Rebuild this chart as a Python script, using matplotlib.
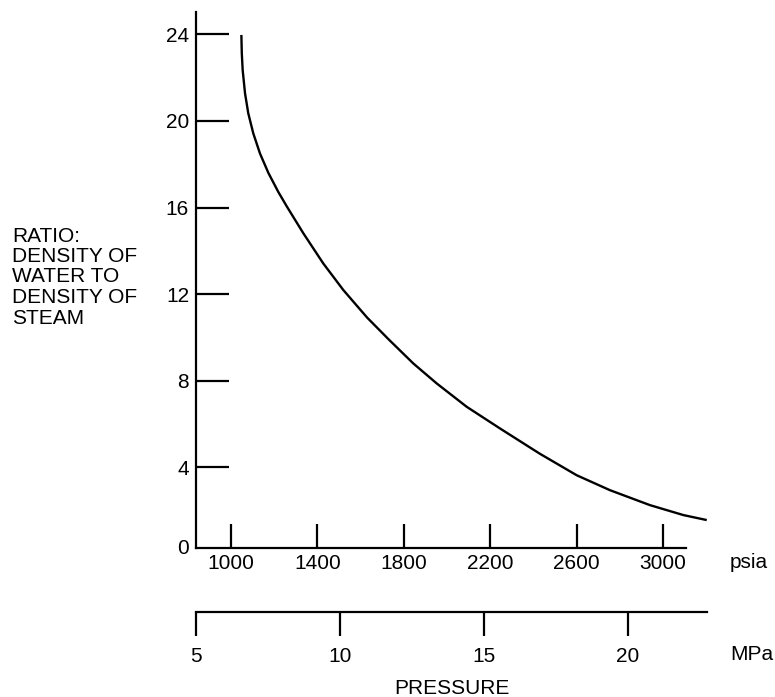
import matplotlib
matplotlib.use("Agg")
import matplotlib.pyplot as plt

plt.rcParams["font.family"] = ["Liberation Sans", "DejaVu Sans"]
plt.rcParams["font.size"] = 15

# curve: pressure (psia) vs density ratio
psia = [1048, 1050, 1054, 1065, 1080, 1103, 1134, 1173, 1219, 1259, 1335, 1427,
        1520, 1630, 1731, 1844, 1952, 2091, 2245, 2384, 2430, 2600, 2754, 2939,
        3094, 3202]
ratio = [23.97, 23.12, 22.35, 21.27, 20.35, 19.43, 18.50, 17.60, 16.72, 16.04,
         14.81, 13.42, 12.19, 10.92, 9.90, 8.80, 7.88, 6.80, 5.80, 4.92, 4.63,
         3.64, 2.95, 2.26, 1.80, 1.57]

y_ticks = [0, 4, 8, 12, 16, 20, 24]
psia_ticks = [1000, 1400, 1800, 2200, 2600, 3000]
mpa_ticks = [5, 10, 15, 20]

W, H = 775, 697
fig = plt.figure(figsize=(W / 100, H / 100), dpi=100)

# main axes
ax = fig.add_axes([196 / W, (H - 548) / H, (686 - 196) / W, (548 - 12) / H])
ax.plot(psia, ratio, color="black", lw=1.7, clip_on=False,
        solid_capstyle="butt")
ax.set_xlim(838, 3106)
ax.set_ylim(0.28, 25.03)
for s in ["top", "right"]:
    ax.spines[s].set_visible(False)
for s in ["left", "bottom"]:
    ax.spines[s].set_linewidth(1.6)
ax.set_yticks(y_ticks[1:])
ax.set_yticklabels([str(v) for v in y_ticks[1:]])
# the zero label sits on the axis line
ax.annotate(str(y_ticks[0]), xy=(0, 0), xycoords="axes fraction",
            xytext=(-5, 0), textcoords="offset points", ha="right", va="center")
ax.set_xticks(psia_ticks)
ax.set_xticklabels([str(v) for v in psia_ticks])
ax.tick_params(axis="y", direction="in", length=24, width=1.6, pad=5)
ax.tick_params(axis="x", direction="in", length=17, width=1.6, pad=4)

# MPa scale
ax2 = fig.add_axes([196 / W, (H - 612) / H, (707 - 196) / W, 0.0001])
ax2.set_xlim(5, 22.74)
ax2.set_ylim(0, 1)
for s in ["top", "right", "left"]:
    ax2.spines[s].set_visible(False)
ax2.spines["bottom"].set_linewidth(1.6)
ax2.set_yticks([])
ax2.set_xticks(mpa_ticks)
ax2.set_xticklabels([str(v) for v in mpa_ticks])
ax2.tick_params(axis="x", direction="out", length=17, width=1.6, pad=8)
ax2.patch.set_visible(False)

fig.text(730 / W, 1 - 563 / H, "psia", ha="left", va="center")
fig.text(730 / W, 1 - 655 / H, "MPa", ha="left", va="center")
fig.text(452 / W, 1 - 688 / H, "PRESSURE", ha="center", va="center")
fig.text(12 / W, 1 - 277 / H, "RATIO:\nDENSITY OF\nWATER TO\nDENSITY OF\nSTEAM",
         ha="left", va="center", linespacing=1.1)

fig.savefig("out.png", dpi=100)
